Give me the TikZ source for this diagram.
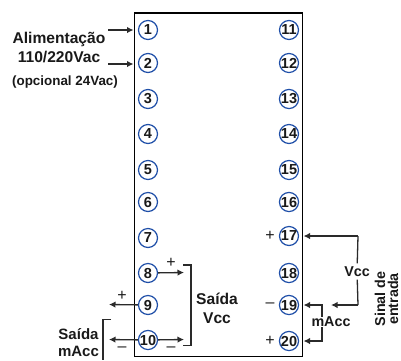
\documentclass[tikz,border=0pt]{standalone}
\usepackage{fontspec}
\setmainfont{Liberation Sans}
\usetikzlibrary{arrows.meta}
\definecolor{termblue}{HTML}{1F4FA8}
\definecolor{wire}{HTML}{2A2A2A}
\tikzset{
  x=1pt,y=-1pt,
  term/.style={circle,draw=termblue,line width=1.2pt,minimum size=19pt,inner sep=0pt,font=\fontsize{14.5}{14.5}\bfseries,text=black!90,fill=white},
  lbl/.style={inner sep=0pt,font=\fontsize{14.3}{18}\bfseries,text=black!90,align=center},
  lblbig/.style={inner sep=0pt,font=\fontsize{15.6}{18.5}\bfseries,text=black!90,align=center},
  lbltight/.style={inner sep=0pt,font=\fontsize{15}{17}\bfseries,text=black!90,align=center},
  sm/.style={inner sep=0pt,font=\fontsize{13.4}{15}\bfseries,text=black!90},
  sign/.style={inner sep=0pt,font=\fontsize{16}{16}\selectfont,text=black!90},
  wirearrow/.style={draw=wire,line width=1.3pt,-{Latex[length=6.5pt,width=6.5pt]}},
  wireplain/.style={draw=wire,line width=1.3pt},
  panel/.style={draw=black,line width=1.2pt,fill=white}
}
\begin{document}
\begin{tikzpicture}
\useasboundingbox (0,0) rectangle (401,360);
\clip (0,0) rectangle (401,360);
\draw[panel] (134.5,13) rectangle (302.5,356.5);
\foreach \n/\yy in {1/30,2/63,3/99,4/134,5/170,6/202,7/238,8/273,9/305,10/340}
  \node[term] (t\n) at (148,\yy) {\n};
\foreach \n/\yy in {11/30,12/63,13/99,14/134,15/170,16/202,17/236,18/273,19/305,20/341}
  \node[term] (t\n) at (289,\yy) {\n};
\coordinate (b1) at (133.5,30);
\coordinate (b2) at (133.5,64);
\coordinate (a1) at (108,30);
\coordinate (a2) at (108,64);
\draw[wirearrow] (a1) -- (b1);
\draw[wirearrow] (a2) -- (b2);
\node[lblbig] (alim) at (59,47.5) {Alimentação\\110/220Vac};
\node[sm] (opc) at (65,82) {(opcional 24Vac)};
% Saida Vcc
\coordinate (v8) at (184,272.5);
\coordinate (v10) at (184,339.5);
\coordinate (l9) at (109,304.5);
\coordinate (l10) at (109,339.5);
\draw[wirearrow] (t8) -- (v8);
\draw[wirearrow] (t10) -- (v10);
\draw[wirearrow] (t9) -- (l9);
\draw[wirearrow] (t10) -- (l10);
\coordinate (bv1) at (183,265);
\coordinate (bv2) at (191,265);
\coordinate (bv3) at (191,345.5);
\coordinate (bv4) at (183,345.5);
\draw[wireplain] (bv1) -- (bv2) -- (bv3) -- (bv4);
\coordinate (bm1) at (111,319.5);
\coordinate (bm2) at (103,319.5);
\coordinate (bm3) at (103,360);
\draw[wireplain] (bm1) -- (bm2) -- (bm3);
\node[lblbig] (sv) at (217,308.5) {Saída\\Vcc};
\node[lbltight] (sm) at (78.5,342.5) {Saída\\mAcc};
\node[sign] (p8) at (171,263) {+};
\node[sign] (p9) at (122,296) {+};
\node[sign] (m10) at (122,349) {–};
\node[sign] (m10b) at (171,349) {–};
% right
\node[sign] (p17) at (270,236) {+};
\node[sign] (m19) at (270,305) {–};
\node[sign] (p20) at (270,341) {+};
\coordinate (v17) at (358,236);
\coordinate (v19) at (358,305);
\coordinate (e17) at (303.5,236);
\coordinate (e19) at (331,305);
\node[lbl,fill=white,inner ysep=3pt] (vcc) at (357,271.5) {Vcc};
\draw[wireplain] (vcc) -- (v17);
\draw[wireplain] (vcc) -- (v19);
\draw[wirearrow] (v17) -- (e17);
\draw[wirearrow] (v19) -- (e19);
\node[lbl] (macc) at (331,322) {mAcc};
\coordinate (m19c) at (322,305);
\coordinate (m20c) at (322,341);
\coordinate (e19b) at (303.5,305);
\coordinate (e20b) at (303.5,341);
\draw[wirearrow] (macc.north -| m19c) -- (m19c) -- (e19b);
\draw[wirearrow] (macc.south -| m20c) -- (m20c) -- (e20b);
\node[lbl,rotate=90] (sinal) at (380,299) {Sinal de};
\node[lbl,rotate=90,anchor=base] (entrada) at (398,299) {entrada};
\end{tikzpicture}
\end{document}
